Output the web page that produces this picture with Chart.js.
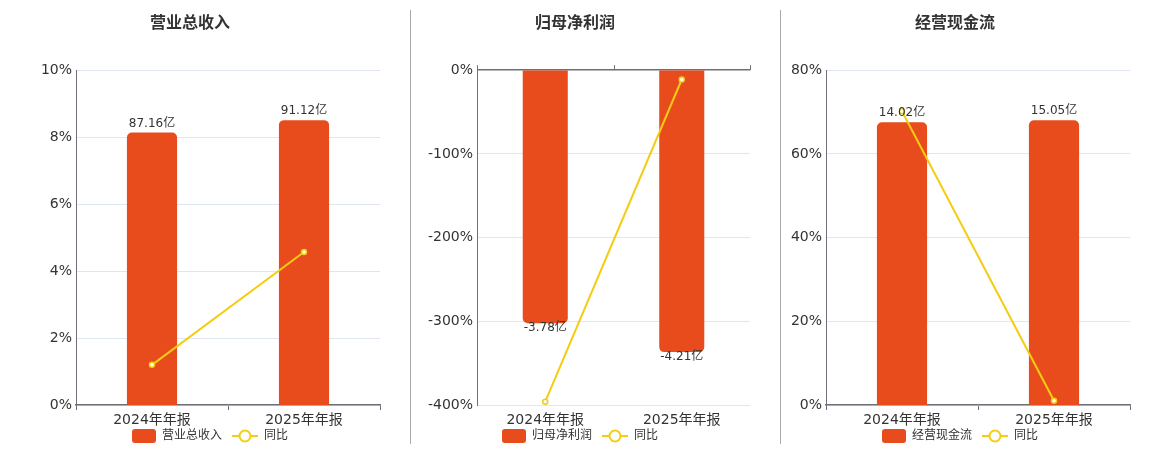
<!DOCTYPE html>
<html>
<head>
<meta charset="utf-8">
<script src="https://cdn.jsdelivr.net/npm/chart.js@4/dist/chart.umd.min.js"></script>
<style>
  body { margin: 0; background: #fff; }
  #wrap { position: relative; width: 1160px; height: 450px; }
  .box { position: absolute; top: 0; height: 450px; }
  .sep { position: absolute; top: 10px; height: 434px; width: 1px; background: #aaa; }
</style>
</head>
<body>
<div id="wrap">
  <div class="box" style="left:0;width:420px"><canvas id="c1"></canvas></div>
  <div class="sep" style="left:410px"></div>
  <div class="box" style="left:400px;width:360px"><canvas id="c2"></canvas></div>
  <div class="sep" style="left:780px"></div>
  <div class="box" style="left:780px;width:360px"><canvas id="c3"></canvas></div>
</div>
<script>
const years = ['2024年年报', '2025年年报'];

const revenue = [87.16, 91.12];        // 亿
const revenueYoy = [1.20, 4.57];       // %
const netProfit = [-3.78, -4.21];
const netProfitYoy = [-396, -11.1];
const cashFlow = [14.02, 15.05];
const cashFlowYoy = [70.2, 1.0];

const revenueTicks = [0, 10, 2];
const netProfitTicks = [-400, 0, 100];
const cashFlowTicks = [0, 80, 20];

const BAR = '#e84c1d';
const LINE = '#f4cc12';
const AXIS = '#6e7079';
const GRID = '#e0e6f1';
const FONT = "'DejaVu Sans', 'Noto Sans CJK SC', sans-serif";

const valueLabels = {
  id: 'valueLabels',
  afterDatasetsDraw(chart) {
    const meta = chart.getDatasetMeta(0);
    const ctx = chart.ctx;
    ctx.save();
    ctx.font = '12px ' + FONT;
    ctx.fillStyle = '#333';
    ctx.textAlign = 'center';
    meta.data.forEach((el, i) => {
      const v = chart.data.datasets[0].data[i];
      if (v < 0) {
        ctx.textBaseline = 'top';
        ctx.fillText(v.toFixed(2) + '亿', el.x, el.y - 1);
      } else {
        ctx.textBaseline = 'bottom';
        ctx.fillText(v.toFixed(2) + '亿', el.x, el.y - 3);
      }
    });
    ctx.restore();
  }
};

// 负值图：0 轴在上方，画出分类分界处的小刻度
const topTicks = {
  id: 'topTicks',
  afterDraw(chart, args, opts) {
    if (!opts.on) return;
    const x = chart.scales.x, y = chart.scales.y;
    const y0 = y.getPixelForValue(0);
    const n = chart.data.labels.length;
    const ctx = chart.ctx;
    ctx.save();
    ctx.strokeStyle = AXIS;
    ctx.lineWidth = 1;
    for (let i = 0; i <= n; i++) {
      const px = Math.round(x.left + i * (x.right - x.left) / n) + 0.5;
      ctx.beginPath(); ctx.moveTo(px, y0); ctx.lineTo(px, y0 - 5); ctx.stroke();
    }
    ctx.restore();
  }
};

// simple bottom legend: bar swatch / line with hollow circle
const miniLegend = {
  id: 'miniLegend',
  afterDraw(chart) {
    const ctx = chart.ctx;
    ctx.save();
    ctx.font = '12px ' + FONT;
    ctx.textBaseline = 'middle';
    ctx.textAlign = 'left';
    const items = chart.data.datasets.map(d => ({ d, w: 26 + 6 + ctx.measureText(d.label).width }));
    const total = items.reduce((s, it) => s + it.w, 0) + 10 * (items.length - 1) - 2;
    let x = (chart.width - total) / 2;
    const cy = chart.chartArea.bottom + 31;
    items.forEach(it => {
      let iw;
      if (it.d.type === 'bar') {
        iw = 24;
        ctx.fillStyle = it.d.backgroundColor;
        ctx.beginPath(); ctx.roundRect(x, cy - 7, 24, 14, 3); ctx.fill();
      } else {
        iw = 26;
        ctx.strokeStyle = it.d.borderColor;
        ctx.lineWidth = 2;
        ctx.beginPath(); ctx.moveTo(x, cy); ctx.lineTo(x + 26, cy); ctx.stroke();
        ctx.fillStyle = '#fff';
        ctx.beginPath(); ctx.arc(x + 13, cy, 5.5, 0, Math.PI * 2); ctx.fill(); ctx.stroke();
      }
      ctx.fillStyle = '#333';
      ctx.fillText(it.d.label, x + iw + 6, cy);
      x += iw + 6 + ctx.measureText(it.d.label).width + 10;
    });
    ctx.restore();
  }
};

function makeChart(id, title, name, bars, yoy, ticks, barRange, axisWidth, padRight, negative) {
  new Chart(document.getElementById(id), {
    data: {
      labels: years,
      datasets: [{
        type: 'bar',
        label: name,
        data: bars,
        base: negative ? barRange[1] : barRange[0],
        backgroundColor: BAR,
        borderRadius: 5,
        borderSkipped: 'start',
        barPercentage: 0.33,
        categoryPercentage: 1,
        yAxisID: 'y1',
        order: 2
      }, {
        type: 'line',
        label: '同比',
        data: yoy,
        borderColor: LINE,
        borderWidth: 2,
        pointRadius: 2.5,
        pointBorderWidth: 1.5,
        pointBackgroundColor: '#fff',
        pointBorderColor: LINE,
        tension: 0,
        yAxisID: 'y',
        order: 1
      }]
    },
    options: {
      responsive: true,
      maintainAspectRatio: false,
      animation: false,
      layout: { padding: { left: 0, right: padRight, top: 0, bottom: 21 } },
      plugins: {
        title: {
          display: true, text: title, color: '#333',
          font: { size: 16, weight: 'bold', family: FONT },
          padding: { top: 14, bottom: 37 }
        },
        legend: { display: false },
        tooltip: { enabled: false },
        topTicks: { on: negative }
      },
      scales: {
        x: {
          offset: true,
          border: { display: !negative, color: AXIS, width: 1.5 },
          grid: { offset: true, drawOnChartArea: false, color: negative ? 'rgba(0,0,0,0)' : AXIS, tickLength: 5 },
          ticks: { color: '#333', padding: 2, font: { size: 14, family: FONT } },
          afterFit: s => { s.height = 24; }
        },
        y: {
          min: ticks[0], max: ticks[1],
          border: { display: true, color: AXIS, width: 1 },
          grid: {
            drawTicks: false,
            color: c => (negative && c.tick && c.tick.value === 0) ? AXIS : GRID,
            lineWidth: c => (negative && c.tick && c.tick.value === 0) ? 1.5 : 1
          },
          ticks: { stepSize: ticks[2], padding: 4, color: '#333', font: { size: 14, family: FONT }, callback: v => v + '%' },
          afterFit: s => { s.width = axisWidth; }
        },
        y1: { display: false, min: barRange[0], max: barRange[1] }
      }
    },
    plugins: [valueLabels, topTicks, miniLegend]
  });
}

makeChart('c1', '营业总收入', '营业总收入', revenue, revenueYoy, revenueTicks, [0, 107.1], 76, 40, false);
makeChart('c2', '归母净利润', '归母净利润', netProfit, netProfitYoy, netProfitTicks, [-5, 0], 77, 10, true);
makeChart('c3', '经营现金流', '经营现金流', cashFlow, cashFlowYoy, cashFlowTicks, [-130, 40.5], 46, 10, false);
</script>
</body>
</html>
